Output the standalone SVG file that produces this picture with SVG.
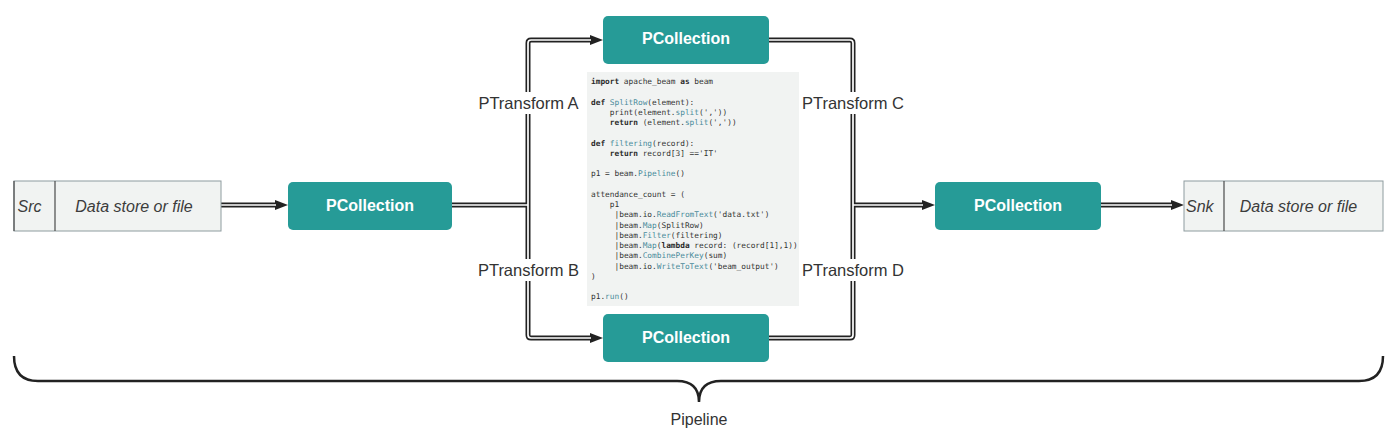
<svg xmlns="http://www.w3.org/2000/svg" width="1400" height="446" viewBox="0 0 1400 446">
<defs>
<style>
.pc rect{fill:#269b97;}
.pc text{font-family:"Liberation Sans",Arial,sans-serif;font-weight:bold;font-size:16px;fill:#ffffff;text-anchor:middle;}
.store rect{fill:#f1f3f2;stroke:#8e9c9f;stroke-width:1;}
.store line{stroke:#4a4a4a;stroke-width:1.2;}
.store text{font-family:"Liberation Sans",Arial,sans-serif;font-style:italic;font-size:16px;fill:#3c3c3c;}
.outer{fill:none;stroke:#222;stroke-width:5;stroke-linejoin:round;}
.inner{fill:none;stroke:#fff;stroke-width:1.7;stroke-linejoin:round;}
.lbl text{font-family:"Liberation Sans",Arial,sans-serif;font-size:16.5px;fill:#333;text-anchor:middle;}
.lbl rect{fill:#fff;}
.code text{font-family:"DejaVu Sans Mono","Liberation Mono",monospace;font-size:7.8px;fill:#333;}
.k{font-weight:bold;fill:#2b2b2b;}
.f{fill:#4a8b9b;}
</style>
<marker id="ah" viewBox="0 0 13 10" refX="0" refY="5" markerWidth="13" markerHeight="10" markerUnits="userSpaceOnUse" orient="auto">
<path d="M0,0 L13,5 L0,10 z" fill="#222"/>
</marker>
</defs>
<rect width="1400" height="446" fill="#ffffff"/>

<g id="connectors">
<g class="outer-lines">
<path class="outer" d="M221,205 H275" marker-end="url(#ah)"/>
<path class="outer" d="M452,205 H528"/>
<path class="outer" d="M528,205 V43 Q528,40 531,40 H590" marker-end="url(#ah)"/>
<path class="outer" d="M528,205 V335 Q528,338 531,338 H590" marker-end="url(#ah)"/>
<path class="outer" d="M769,40 H850 Q853,40 853,43 V205"/>
<path class="outer" d="M769,338 H850 Q853,338 853,335 V205"/>
<path class="outer" d="M853,205 H922" marker-end="url(#ah)"/>
<path class="outer" d="M1100,205 H1171" marker-end="url(#ah)"/>
</g>
<g class="inner-lines">
<path class="inner" d="M221,205 H276"/>
<path class="inner" d="M452,205 H528"/>
<path class="inner" d="M528,205 V43 Q528,40 531,40 H591"/>
<path class="inner" d="M528,205 V335 Q528,338 531,338 H591"/>
<path class="inner" d="M769,40 H850 Q853,40 853,43 V205"/>
<path class="inner" d="M769,338 H850 Q853,338 853,335 V205"/>
<path class="inner" d="M853,205 H923"/>
<path class="inner" d="M1100,205 H1172"/>
</g>
<path d="M14,356 Q14,381 38,381 H677 Q699,381 699,402 Q699,381 721,381 H1359 Q1383,381 1383,356" fill="none" stroke="#222" stroke-width="2.5"/>
</g>

<g id="labels" class="lbl">
<rect x="476" y="92" width="105" height="22"/>
<text x="528.5" y="109">PTransform A</text>
<rect x="476" y="259" width="105" height="22"/>
<text x="528.5" y="276">PTransform B</text>
<rect x="800" y="92" width="106" height="22"/>
<text x="853" y="109">PTransform C</text>
<rect x="800" y="259" width="106" height="22"/>
<text x="853" y="276">PTransform D</text>
</g>

<g id="src" class="store">
<rect x="14" y="181" width="207" height="50"/>
<line x1="14" y1="181" x2="14" y2="231"/>
<line x1="55" y1="181" x2="55" y2="231"/>
<text x="17.5" y="212">Src</text>
<text x="134" y="212" text-anchor="middle">Data store or file</text>
</g>

<g id="snk" class="store">
<rect x="1184" y="181" width="199" height="50"/>
<line x1="1224" y1="181" x2="1224" y2="231"/>
<text x="1186" y="212">Snk</text>
<text x="1298.5" y="212" text-anchor="middle">Data store or file</text>
</g>

<g id="pc-left" class="pc">
<rect x="288" y="182" width="164" height="48" rx="5"/>
<text x="370" y="211">PCollection</text>
</g>
<g id="pc-top" class="pc">
<rect x="603" y="16" width="166" height="48" rx="5"/>
<text x="686" y="44">PCollection</text>
</g>
<g id="pc-bottom" class="pc">
<rect x="603" y="314" width="166" height="48" rx="5"/>
<text x="686" y="343">PCollection</text>
</g>
<g id="pc-right" class="pc">
<rect x="935" y="182" width="166" height="48" rx="5"/>
<text x="1018" y="211">PCollection</text>
</g>

<g id="code" class="code">
<rect x="587" y="72" width="212" height="234" fill="#f1f3f2"/>
<text x="591" y="84"><tspan class="k">import</tspan> apache_beam <tspan class="k">as</tspan> beam</text>
<text x="591" y="104.5"><tspan class="k">def</tspan> <tspan class="f">SplitRow</tspan>(element):</text>
<text x="609.8" y="114.75">print(element.<tspan class="f">split</tspan>(','))</text>
<text x="609.8" y="125"><tspan class="k">return</tspan> (element.<tspan class="f">split</tspan>(','))</text>
<text x="591" y="145.5"><tspan class="k">def</tspan> <tspan class="f">filtering</tspan>(record):</text>
<text x="609.8" y="155.75"><tspan class="k">return</tspan> record[3] =='IT'</text>
<text x="591" y="176.25">p1 = beam.<tspan class="f">Pipeline</tspan>()</text>
<text x="591" y="196.75">attendance_count = (</text>
<text x="609.8" y="207">p1</text>
<text x="614.5" y="217.25">|beam.io.<tspan class="f">ReadFromText</tspan>('data.txt')</text>
<text x="614.5" y="227.5">|beam.<tspan class="f">Map</tspan>(SplitRow)</text>
<text x="614.5" y="237.75">|beam.<tspan class="f">Filter</tspan>(filtering)</text>
<text x="614.5" y="248">|beam.<tspan class="f">Map</tspan>(<tspan class="k">lambda</tspan> record: (record[1],1))</text>
<text x="614.5" y="258.25">|beam.<tspan class="f">CombinePerKey</tspan>(sum)</text>
<text x="614.5" y="268.5">|beam.io.<tspan class="f">WriteToText</tspan>('beam_output')</text>
<text x="591" y="278.75">)</text>
<text x="591" y="299.25">p1.<tspan class="f">run</tspan>()</text>
</g>

<g id="pipeline-label">
<text x="699" y="425" font-family="Liberation Sans, Arial, sans-serif" font-size="16" fill="#333" text-anchor="middle">Pipeline</text>
</g>
</svg>
